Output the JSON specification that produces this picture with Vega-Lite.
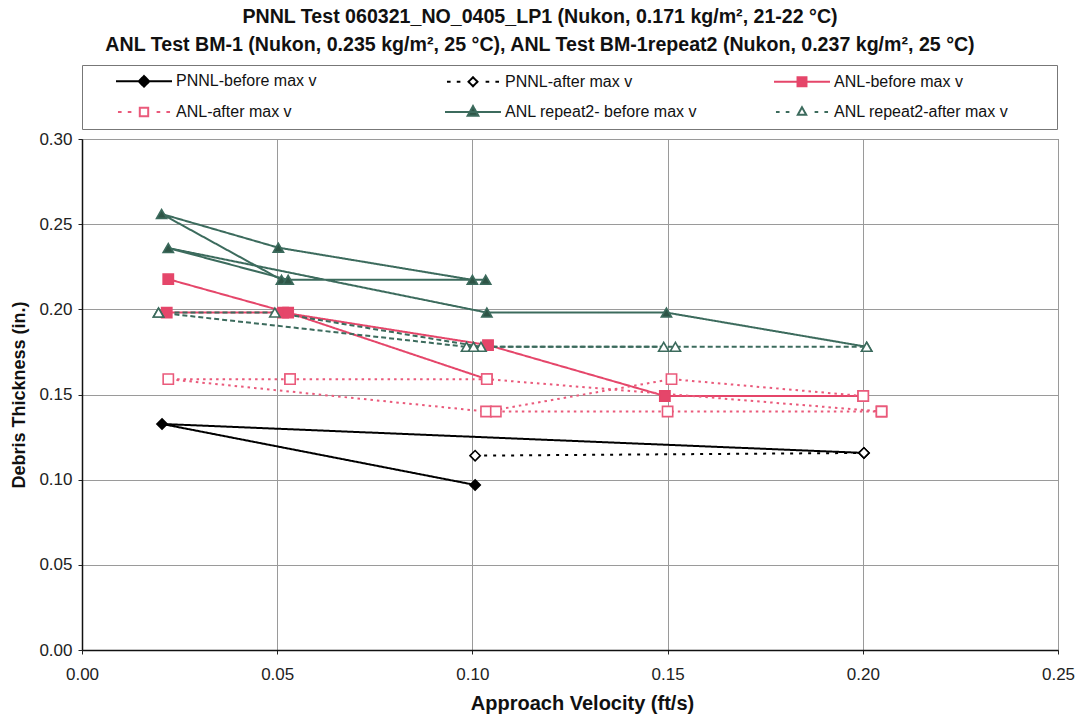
{
  "$schema": "https://vega.github.io/schema/vega-lite/v6.json",
  "width": 976,
  "height": 511,
  "autosize": {"type": "none"},
  "padding": {"left": 82, "top": 139, "right": 25, "bottom": 71},
  "background": "white",
  "title": {
    "text": ["PNNL Test 060321_NO_0405_LP1 (Nukon, 0.171 kg/m², 21-22 °C)", "ANL Test BM-1 (Nukon, 0.235 kg/m², 25 °C), ANL Test BM-1repeat2 (Nukon, 0.237 kg/m², 25 °C)"],
    "font": "Liberation Sans",
    "fontSize": 19.6,
    "fontWeight": "bold",
    "color": "#111111",
    "anchor": "middle",
    "lineHeight": 28,
    "offset": 9,
    "dx": -30
  },
  "config": {
    "view": {"stroke": "#666666", "strokeWidth": 1},
    "font": "Liberation Sans"
  },
  "data": {
    "values": [
      {"s": "PNNL-before max v", "r": "pb", "k": 1, "x": 0.1007, "y": 0.0969},
      {"s": "PNNL-before max v", "r": "pb", "k": 2, "x": 0.0205, "y": 0.1327},
      {"s": "PNNL-before max v", "r": "pb", "k": 3, "x": 0.2003, "y": 0.1157},
      {"s": "PNNL-after max v", "r": "pa", "k": 1, "x": 0.1007, "y": 0.1141},
      {"s": "PNNL-after max v", "r": "pa", "k": 2, "x": 0.2003, "y": 0.1157},
      {"s": "ANL-before max v", "r": "ab1", "k": 1, "x": 0.0217, "y": 0.1981},
      {"s": "ANL-before max v", "r": "ab1", "k": 2, "x": 0.0515, "y": 0.1981},
      {"s": "ANL-before max v", "r": "ab1", "k": 3, "x": 0.1040, "y": 0.1790},
      {"s": "ANL-before max v", "r": "ab1", "k": 4, "x": 0.1493, "y": 0.1491},
      {"s": "ANL-before max v", "r": "ab1", "k": 5, "x": 0.2001, "y": 0.1491},
      {"s": "ANL-before max v", "r": "ab2", "k": 1, "x": 0.0221, "y": 0.2177},
      {"s": "ANL-before max v", "r": "ab2", "k": 2, "x": 0.0528, "y": 0.1981},
      {"s": "ANL-before max v", "r": "ab2", "k": 3, "x": 0.1037, "y": 0.1590},
      {"s": "ANL-after max v", "r": "aa1", "k": 1, "x": 0.0533, "y": 0.1590},
      {"s": "ANL-after max v", "r": "aa1", "k": 2, "x": 0.0221, "y": 0.1590},
      {"s": "ANL-after max v", "r": "aa1", "k": 3, "x": 0.1035, "y": 0.1400},
      {"s": "ANL-after max v", "r": "aa1", "k": 4, "x": 0.1510, "y": 0.1590},
      {"s": "ANL-after max v", "r": "aa1", "k": 5, "x": 0.2001, "y": 0.1491},
      {"s": "ANL-after max v", "r": "aa2", "k": 1, "x": 0.0533, "y": 0.1590},
      {"s": "ANL-after max v", "r": "aa2", "k": 2, "x": 0.1037, "y": 0.1590},
      {"s": "ANL-after max v", "r": "aa2", "k": 3, "x": 0.2048, "y": 0.1400},
      {"s": "ANL-after max v", "r": "aa3", "k": 1, "x": 0.1060, "y": 0.1400},
      {"s": "ANL-after max v", "r": "aa3", "k": 2, "x": 0.1500, "y": 0.1400},
      {"s": "ANL-after max v", "r": "aa3", "k": 3, "x": 0.2048, "y": 0.1400},
      {"s": "ANL repeat2- before max v", "r": "gb1", "k": 1, "x": 0.1000, "y": 0.2173},
      {"s": "ANL repeat2- before max v", "r": "gb1", "k": 2, "x": 0.0503, "y": 0.2362},
      {"s": "ANL repeat2- before max v", "r": "gb1", "k": 3, "x": 0.0204, "y": 0.2560},
      {"s": "ANL repeat2- before max v", "r": "gb1", "k": 4, "x": 0.0511, "y": 0.2173},
      {"s": "ANL repeat2- before max v", "r": "gb2", "k": 1, "x": 0.1034, "y": 0.2173},
      {"s": "ANL repeat2- before max v", "r": "gb2", "k": 2, "x": 0.0528, "y": 0.2173},
      {"s": "ANL repeat2- before max v", "r": "gb2", "k": 3, "x": 0.0221, "y": 0.2360},
      {"s": "ANL repeat2- before max v", "r": "gb2", "k": 4, "x": 0.1037, "y": 0.1981},
      {"s": "ANL repeat2- before max v", "r": "gb2", "k": 5, "x": 0.1497, "y": 0.1981},
      {"s": "ANL repeat2- before max v", "r": "gb2", "k": 6, "x": 0.2010, "y": 0.1780},
      {"s": "ANL repeat2-after max v", "r": "ga1", "k": 1, "x": 0.0196, "y": 0.1981},
      {"s": "ANL repeat2-after max v", "r": "ga1", "k": 2, "x": 0.0494, "y": 0.1981},
      {"s": "ANL repeat2-after max v", "r": "ga1", "k": 3, "x": 0.1022, "y": 0.1780},
      {"s": "ANL repeat2-after max v", "r": "ga1", "k": 4, "x": 0.1520, "y": 0.1780},
      {"s": "ANL repeat2-after max v", "r": "ga1", "k": 5, "x": 0.2010, "y": 0.1780},
      {"s": "ANL repeat2-after max v", "r": "ga2", "k": 1, "x": 0.0196, "y": 0.1981},
      {"s": "ANL repeat2-after max v", "r": "ga2", "k": 2, "x": 0.0985, "y": 0.1780},
      {"s": "ANL repeat2-after max v", "r": "ga2", "k": 3, "x": 0.1003, "y": 0.1780},
      {"s": "ANL repeat2-after max v", "r": "ga2", "k": 4, "x": 0.1490, "y": 0.1780}
    ]
  },
  "encoding": {
    "x": {
      "field": "x", "type": "quantitative",
      "scale": {"domain": [0, 0.25], "nice": false, "zero": false},
      "axis": {
        "values": [0, 0.05, 0.1, 0.15, 0.2, 0.25], "format": ".2f", "labelFlush": false,
        "title": "Approach Velocity (ft/s)", "titleX": 500,
        "labelFontSize": 17, "labelColor": "#222222", "labelPadding": 12,
        "tickSize": 4, "tickColor": "#222222", "domainColor": "#111111", "domainWidth": 1.5,
        "gridColor": "#9a9a9a", "gridWidth": 1,
        "titleFontSize": 20, "titleFontWeight": "bold", "titleColor": "#111111", "titlePadding": 11
      }
    },
    "y": {
      "field": "y", "type": "quantitative",
      "scale": {"domain": [0, 0.3], "nice": false, "zero": false},
      "axis": {
        "values": [0, 0.05, 0.1, 0.15, 0.2, 0.25, 0.3], "format": ".2f", "labelFlush": false,
        "title": "Debris Thickness (in.)",
        "labelFontSize": 17, "labelColor": "#222222", "labelPadding": 6,
        "tickSize": 4, "tickColor": "#222222", "domainColor": "#111111", "domainWidth": 1.5,
        "gridColor": "#9a9a9a", "gridWidth": 1,
        "titleFontSize": 18, "titleFontWeight": "bold", "titleColor": "#111111", "titlePadding": 10
      }
    },
    "color": {
      "field": "s", "type": "nominal",
      "scale": {
        "domain": ["PNNL-before max v", "PNNL-after max v", "ANL-before max v", "ANL-after max v", "ANL repeat2- before max v", "ANL repeat2-after max v"],
        "range": ["#000000", "#000000", "#E5466A", "#EA5A7B", "#3C6B5D", "#3C6B5D"]
      },
      "legend": {
        "orient": "none", "legendX": 0, "legendY": -74,
        "columns": 3, "direction": "horizontal", "gridAlign": "all",
        "columnPadding": 50, "rowPadding": 11, "padding": 8,
        "strokeColor": "#777777", "fillColor": "white",
        "symbolSize": 196, "symbolType": "M-4,0L4,0", "labelOffset": 24,
        "labelFont": "Liberation Sans", "labelFontSize": 16, "labelColor": "#111111", "labelLimit": 600,
        "labelExpr": "datum.label + (datum.label == 'ANL repeat2-after max v' ? '\u00a0\u00a0\u00a0\u00a0\u00a0\u00a0\u00a0\u00a0\u00a0' : '\u00a0\u00a0\u00a0\u00a0') + '\u200b'",
        "title": " ", "titleOrient": "left", "titlePadding": 46, "titleFontSize": 10,
        "encode": {
          "symbols": {
            "update": {
              "shape": {"signal": "['M-4,0L4,0M-0.76,0L0,-0.76L0.76,0L0,0.76Z', 'M-3.72,0L-3.2,0M-2.32,0L-1.8,0M1.8,0L2.32,0M3.2,0L3.72,0M-0.64,0L0,-0.64L0.64,0L0,0.64Z', 'M-4,0L4,0M-0.64,-0.64L0.64,-0.64L0.64,0.64L-0.64,0.64Z', 'M-3.72,0L-3.2,0M-2.32,0L-1.8,0M1.8,0L2.32,0M3.2,0L3.72,0M-0.6,-0.6L0.6,-0.6L0.6,0.6L-0.6,0.6Z', 'M-4,0L4,0M0,-0.84L0.76,0.52L-0.76,0.52Z', 'M-3.72,0L-3.2,0M-2.32,0L-1.8,0M1.8,0L2.32,0M3.2,0L3.72,0M0,-0.68L0.6,0.4L-0.6,0.4Z'][indexof(['PNNL-before max v', 'PNNL-after max v', 'ANL-before max v', 'ANL-after max v', 'ANL repeat2- before max v', 'ANL repeat2-after max v'], datum.value)]"},
              "fill": {"signal": "['#000000', '#ffffff', '#E5466A', '#ffffff', '#2E5546', '#ffffff'][indexof(['PNNL-before max v', 'PNNL-after max v', 'ANL-before max v', 'ANL-after max v', 'ANL repeat2- before max v', 'ANL repeat2-after max v'], datum.value)]"},
              "stroke": {"signal": "['#000000', '#000000', '#E5466A', '#EA5A7B', '#3C6B5D', '#3C6B5D'][indexof(['PNNL-before max v', 'PNNL-after max v', 'ANL-before max v', 'ANL-after max v', 'ANL repeat2- before max v', 'ANL repeat2-after max v'], datum.value)]"},
              "strokeWidth": {"value": 2},
              "strokeDash": {"value": [1, 0]},
              "opacity": {"value": 1},
              "fillOpacity": {"value": 1},
              "strokeOpacity": {"value": 1},
              "size": {"value": 196}
            }
          }
        }
      }
    }
  },
  "layer": [
    {
      "mark": {"type": "line", "strokeWidth": 2},
      "encoding": {
        "detail": {"field": "r"},
        "order": {"field": "k", "type": "quantitative"},
        "strokeDash": {
          "condition": [
            {"test": "datum.s === 'PNNL-after max v'", "value": [3, 6]},
            {"test": "datum.s === 'ANL-after max v'", "value": [2.5, 4]},
            {"test": "datum.s === 'ANL repeat2-after max v'", "value": [5, 3]}
          ],
          "value": [1, 0]
        }
      }
    },
    {
      "mark": {"type": "point", "filled": false, "strokeWidth": 1.6, "opacity": 1, "size": 105},
      "encoding": {
        "shape": {
          "condition": [
            {"test": "datum.s === 'PNNL-before max v' || datum.s === 'PNNL-after max v'", "value": "diamond"},
            {"test": "datum.s === 'ANL-before max v' || datum.s === 'ANL-after max v'", "value": "square"}
          ],
          "value": "triangle-up"
        },
        "fill": {
          "condition": [
            {"test": "datum.s === 'PNNL-before max v'", "value": "#000000"},
            {"test": "datum.s === 'ANL-before max v'", "value": "#E5466A"},
            {"test": "datum.s === 'ANL repeat2- before max v'", "value": "#2E5546"}
          ],
          "value": "#ffffff"
        }
      }
    }
  ]
}
